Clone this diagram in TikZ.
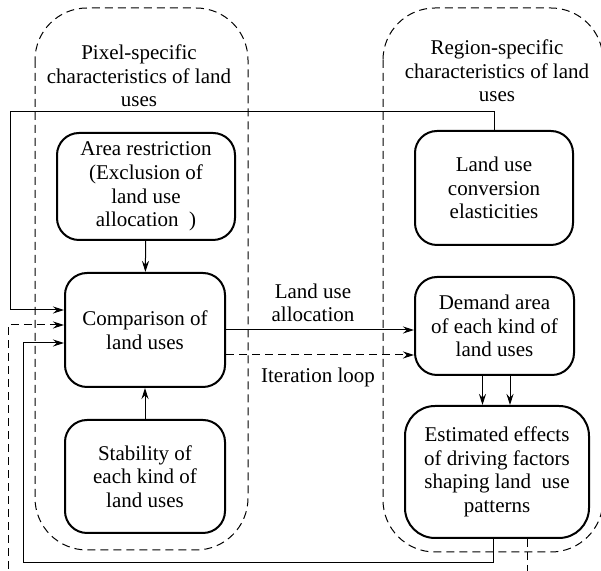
\documentclass[tikz,border=0pt]{standalone}
\usepackage{fontspec}
\setmainfont{Liberation Serif}
\usetikzlibrary{arrows.meta, positioning, calc}

\begin{document}
\begin{tikzpicture}[
    x=0.5pt, y=-0.5pt,
    >={Stealth[length=5.5pt, width=3.5pt]},
    box/.style={draw, rounded corners=11pt, line width=1pt, align=center, inner sep=0pt, font=\fontsize{10.5}{11.8}\selectfont},
    region/.style={draw, dashed, dash pattern=on 4pt off 2.5pt, line width=0.5pt, rounded corners=26pt},
    title/.style={align=center, font=\fontsize{10.5}{11.8}\selectfont},
    link/.style={line width=0.5pt},
]
    \useasboundingbox (0,0) rectangle (601,571);
    \clip (0,0) rectangle (601,571);

    \draw[region] (35,8) rectangle (248,550);
    \draw[region] (383,8) rectangle (603,552);
    \node[title] (pixtitle) at (139,76) {Pixel-specific\\characteristics of land\\uses};
    \node[title] (regtitle) at (497,71) {Region-specific\\characteristics of land\\uses};

    \node[box, minimum width=89pt, minimum height=53.5pt] (area) at (146,186.5) {Area restriction\\ (Exclusion of\\land use\\allocation\ \ )};
    \node[box, minimum width=80pt, minimum height=57pt] (comp) at (145,330) {Comparison of\\land uses};
    \node[box, minimum width=80pt, minimum height=56.5pt] (stab) at (145,476.5) {Stability of\\each kind of\\land uses};
    \node[box, minimum width=79pt, minimum height=57pt] (conv) at (494,188) {Land use\\conversion\\elasticities};
    \node[box, minimum width=79.5pt, minimum height=49pt] (demand) at (494.5,326) {Demand area\\of each kind of\\land uses};
    \node[box, minimum width=92pt, minimum height=66pt, rounded corners=15pt] (est) at (497,472) {Estimated effects\\of driving factors\\shaping land\ \ use\\patterns};

    \node[title] (alloclabel) at (313,303) {Land use\\allocation};
    \node[title] (looplabel) at (318,377) {Iteration loop};

    \coordinate (topturn) at (10,112);
    \coordinate (botturn) at (23,563);
    \coordinate (loopturn) at (8,600);

    \draw[link, ->] (area) -- (comp);
    \draw[link, ->] (stab) -- (comp);
    \draw[link, ->] (conv.north) |- (topturn) |- ([yshift=10pt]comp.west);
    \draw[link, ->] (comp.east) -- (comp.east -| demand.west);
    \draw[link, ->, dashed, dash pattern=on 4pt off 2.5pt] ([yshift=-12.5pt]comp.east) -- ([yshift=-12.5pt]comp.east -| demand.west);
    \draw[link, ->] ([xshift=-6pt]demand.south) -- ([xshift=-6pt]demand.south |- est.north);
    \draw[link, ->] ([xshift=7.75pt]demand.south) -- ([xshift=7.75pt]demand.south |- est.north);
    \draw[link, ->] ([xshift=-2pt]est.south) |- (botturn) |- ([yshift=-6.5pt]comp.west);
    \draw[link, ->, dashed, dash pattern=on 4pt off 2.5pt] ([xshift=15pt]est.south) |- (loopturn) |- ([yshift=2.5pt]comp.west);
\end{tikzpicture}
\end{document}
